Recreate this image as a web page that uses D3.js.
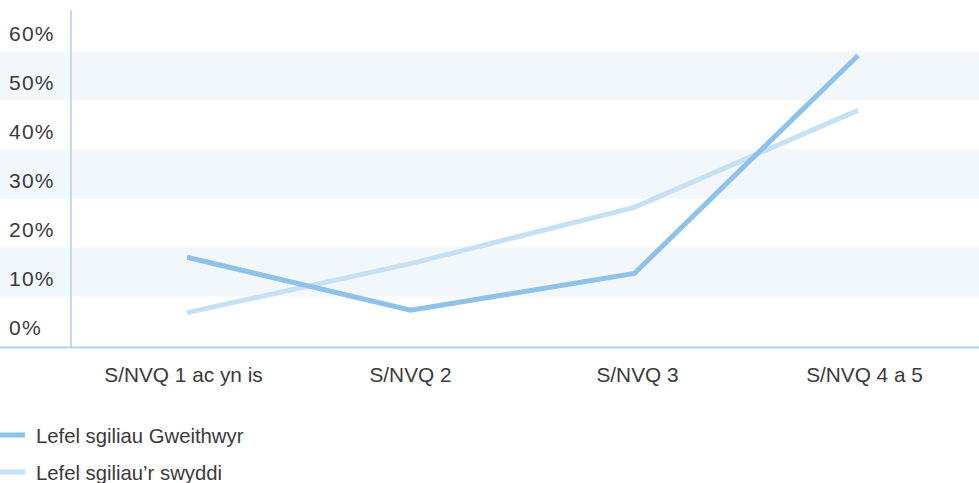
<!DOCTYPE html>
<html>
<head>
<meta charset="utf-8">
<script src="https://cdn.jsdelivr.net/npm/d3@7"></script>
<style>
  body { margin: 0; background: #fff; }
  svg text { font-family: "Liberation Sans", Arial, sans-serif; fill: #3a3a3a; }
</style>
</head>
<body>
<div id="chart"></div>
<script>
// data
var categories = ["S/NVQ 1 ac yn is", "S/NVQ 2", "S/NVQ 3", "S/NVQ 4 a 5"];
var workers = [13, 2.2, 9.7, 54.2];   // Lefel sgiliau Gweithwyr
var jobs = [1.7, 11.7, 23.2, 43];     // Lefel sgiliau'r swyddi
var yTicks = [0, 10, 20, 30, 40, 50, 60];
var seriesNames = ["Lefel sgiliau Gweithwyr", "Lefel sgiliau\u2019r swyddi"];
var seriesColors = ["#8ec2e9", "#c6e0f4"];

var W = 979, H = 483;

var svg = d3.select("#chart").append("svg")
  .attr("width", W).attr("height", H);

// y: each tick label sits in a 10% band
var y = d3.scaleLinear().domain([-5, 65]).range([345.5, 2.5]);
var xBand = d3.scaleBand().domain(categories).range([71, 979]);
var xPt = d3.scalePoint().domain(categories).range([187, 858]);

// alternating bands
svg.append("g").selectAll("rect")
  .data(yTicks.filter(function (d) { return d % 20 == 10; })).enter()
  .append("rect")
    .attr("x", 0).attr("width", W)
    .attr("y", function (d) { return y(d + 5); })
    .attr("height", function (d) { return y(d - 5) - y(d + 5); })
    .style("fill", "#f2f7fc");

// axis lines
svg.append("line")
  .attr("x1", 71).attr("x2", 71).attr("y1", 10).attr("y2", 347.5)
  .style("stroke", "#aed2ec").style("stroke-width", 1.5);
svg.append("line")
  .attr("x1", 0).attr("x2", W).attr("y1", 347.5).attr("y2", 347.5)
  .style("stroke", "#aed2ec").style("stroke-width", 2);

// y labels
svg.append("g").selectAll("text")
  .data(yTicks).enter()
  .append("text")
    .attr("x", 9)
    .attr("y", function (d) { return y(d) + 14; })
    .style("font-size", "21px")
    .style("letter-spacing", "1.2px")
    .text(function (d) { return d + "%"; });

// x labels
svg.append("g").selectAll("text")
  .data(categories).enter()
  .append("text")
    .attr("x", function (d) { return xBand(d) + xBand.bandwidth() / 2 - 1; })
    .attr("y", 382)
    .style("text-anchor", "middle")
    .style("font-size", "20.8px")
    .text(function (d) { return d; });

var line = d3.line()
  .x(function (d, i) { return xPt(categories[i]); })
  .y(function (d) { return y(d); });

// light series drawn first, dark on top
[jobs, workers].forEach(function (s, k) {
  svg.append("path")
    .datum(s)
    .attr("d", line)
    .style("fill", "none")
    .style("stroke", seriesColors[1 - k])
    .style("stroke-width", 5);
});

// legend
var legend = svg.append("g").selectAll("g")
  .data(seriesNames).enter()
  .append("g")
    .attr("transform", function (d, i) { return "translate(0," + (435 + i * 37) + ")"; });

legend.append("line")
  .attr("x1", 0).attr("x2", 25)
  .style("stroke", function (d, i) { return seriesColors[i]; })
  .style("stroke-width", 5);

legend.append("text")
  .attr("x", 36).attr("y", 8)
  .style("font-size", "20.3px")
  .text(function (d) { return d; });
</script>
</body>
</html>
